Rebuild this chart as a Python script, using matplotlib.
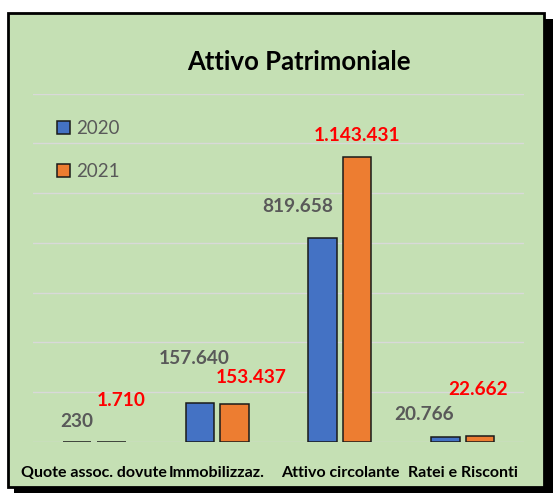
import matplotlib.pyplot as plt
from matplotlib.patches import Rectangle
import numpy as np

plt.rcParams['font.family'] = ['Lato', 'DejaVu Sans']

categories = ['Quote assoc. dovute', 'Immobilizzaz.', 'Attivo circolante', 'Ratei e Risconti']
years = ['2020', '2021']
values_2020 = [230, 157640, 819658, 20766]
values_2021 = [1710, 153437, 1143431, 22662]
labels_2020 = ['230', '157.640', '819.658', '20.766']
labels_2021 = ['1.710', '153.437', '1.143.431', '22.662']

# label offsets (pixels) from bar tops, moved by hand like in the original
off_2020 = [(0, 20), (-6, 44), (-25, 32), (-21, 22)]
off_2021 = [(10, 41), (17, 26), (0, 22), (-2, 47)]

W, H = 553, 493
fig = plt.figure(figsize=(W / 100, H / 100), dpi=100, facecolor='white')

# shadow + green frame
fig.patches.append(Rectangle((14 / W, 0), 1 - 14 / W, (H - 19) / H, transform=fig.transFigure,
                             facecolor='black', edgecolor='none', zorder=0))
fig.patches.append(Rectangle((8 / W, (H - 487) / H), 536 / W, 474 / H, transform=fig.transFigure,
                             facecolor='#C5E0B4', edgecolor='black', linewidth=2, zorder=1))

ax = fig.add_axes([33 / W, (H - 442) / H, 491 / W, 348.4 / H])
ax.set_facecolor('none')
ax.set_zorder(5)

x = np.arange(len(categories))
bw = 0.232
dx = 0.1405
ax.bar(x - dx, values_2020, bw, color='#4472C4', edgecolor='#1a1a1a', linewidth=1.1,
       label=years[0], zorder=3)
ax.bar(x + dx, values_2021, bw, color='#ED7D31', edgecolor='#1a1a1a', linewidth=1.1,
       label=years[1], zorder=3)

ax.set_xlim(-0.5, 3.5)
ax.set_ylim(0, 1400000)
ax.set_yticks(np.arange(0, 1400001, 200000))
ax.yaxis.grid(True, color='#D9D9D9', linewidth=1)
ax.set_axisbelow(True)
ax.tick_params(left=False, labelleft=False, bottom=False, length=0)
for s in ax.spines.values():
    s.set_visible(False)
ax.set_xticks(x)
ax.set_xticklabels(categories, fontsize=11.5, fontweight='bold', color='black')
ax.tick_params(axis='x', pad=17)

for i in range(len(categories)):
    ax.annotate(labels_2020[i], (x[i] - dx, values_2020[i]), xytext=off_2020[i],
                textcoords='offset pixels', ha='center', va='center',
                fontsize=13.7, fontweight='bold', color='#595959')
    ax.annotate(labels_2021[i], (x[i] + dx, values_2021[i]), xytext=off_2021[i],
                textcoords='offset pixels', ha='center', va='center',
                fontsize=13.7, fontweight='bold', color='#FF0000')

fig.text(299 / W, (H - 62) / H, 'Attivo Patrimoniale', ha='center', va='center',
         fontsize=18.5, fontweight='bold', color='black', zorder=6)

leg = ax.legend(loc='center left', bbox_to_anchor=(57 / W, (H - 150) / H),
                bbox_transform=fig.transFigure, frameon=False, fontsize=13.5,
                handlelength=0.7, handleheight=0.7, handletextpad=0.3,
                labelspacing=1.35, borderpad=0, borderaxespad=0)
for t in leg.get_texts():
    t.set_color('#595959')

fig.savefig('out.png', dpi=100, facecolor='white')
